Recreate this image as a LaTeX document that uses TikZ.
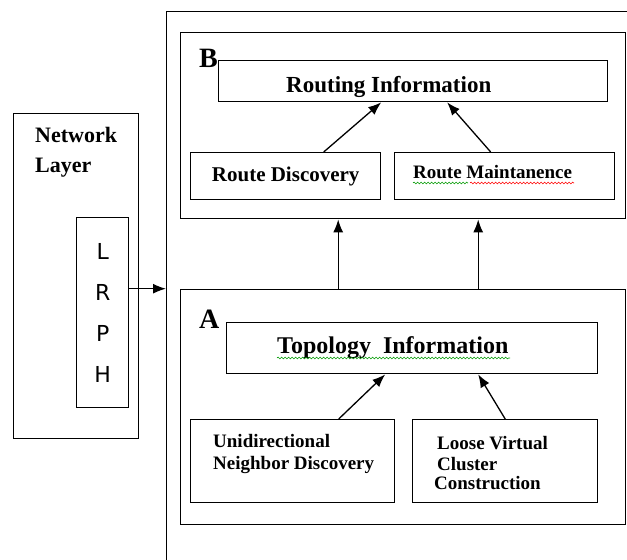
\documentclass[tikz,border=0pt]{standalone}
\usepackage{fontspec}
\setmainfont{Liberation Serif}
\newfontfamily\lrphfont{DejaVu Sans}
\usetikzlibrary{arrows.meta,positioning,decorations.pathmorphing}
\tikzset{%
	box/.style      = {draw, rectangle, line width=1.4pt, inner sep=0pt, anchor=north west}, % Block
	lbl/.style      = {anchor=base west, inner sep=0pt}, % Label
	arrow/.style    = {line width=1.3pt, -{Latex[length=13pt,width=10pt]}},
	squiggle/.style = {decorate, decoration={snake, amplitude=0.9pt, segment length=3.5pt}, line width=0.6pt},
}

\begin{document}
\begin{tikzpicture}[x=1pt,y=-1pt]
	\clip (0,0) rectangle (627,560);
	% outer frame, cut by the page
	\node[box, minimum width=520pt, minimum height=620pt] (frame) at (166,11) {};
	
	% network layer
	\node[box, minimum width=125pt, minimum height=325pt] (netlayer) at (13,113) {};
	\node[lbl, align=left, font=\fontsize{22}{30}\selectfont\bfseries] (nettext) at (35,172) {Network\\Layer};
	\node[box, minimum width=52pt, minimum height=190pt, align=center, font=\fontsize{22}{41}\selectfont\lrphfont] (lrph) at (76,217) {L\\R\\P\\H};
	
	% part B
	\node[box, minimum width=445pt, minimum height=186pt] (partB) at (180,32) {};
	\node[lbl, font=\fontsize{28}{28}\selectfont\bfseries] (labB) at (199,67) {B};
	\node[box, minimum width=389pt, minimum height=41pt] (routing) at (218,60) {};
	\node[lbl, font=\fontsize{23}{23}\selectfont\bfseries] at (286,92) {Routing Information};
	\node[box, minimum width=190pt, minimum height=47pt, font=\fontsize{21}{21}\selectfont\bfseries] (rdisc) at (190,152) {Route Discovery};
	\node[box, minimum width=220pt, minimum height=47pt] (rmaint) at (394,152) {};
	\node[lbl, font=\fontsize{19}{19}\selectfont\bfseries] (rmtext) at (413,178) {Route Maintanence};
	\draw[squiggle, green!60!black] (413,183) -- (468,183);
	\draw[squiggle, red] (470,183) -- (574,183);
	
	% part A
	\node[box, minimum width=445pt, minimum height=235pt] (partA) at (180,289) {};
	\node[lbl, font=\fontsize{28}{28}\selectfont\bfseries] (labA) at (199,328) {A};
	\node[box, minimum width=371pt, minimum height=51pt] (topo) at (226,322) {};
	\node[lbl, font=\fontsize{24}{24}\selectfont\bfseries] (topotext) at (277,353) {Topology~ Information};
	\draw[squiggle, green!60!black] (277,358) -- (510,358);
	\node[box, minimum width=204pt, minimum height=83pt] (unidir) at (190,419) {};
	\node[lbl, align=left, font=\fontsize{19}{22}\selectfont\bfseries] at (213,469) {Unidirectional\\Neighbor Discovery};
	\node[box, minimum width=185pt, minimum height=83pt] (loose) at (412,419) {};
	\node[lbl, align=left, font=\fontsize{19}{21}\selectfont\bfseries] at (437,489) {Loose Virtual\\Cluster\\[-2pt]\hspace*{-3pt}Construction};
	
	% connectors
	\coordinate (lrphout) at ([yshift=24pt]lrph.east);
	\draw[arrow] (lrphout) -- (lrphout -| frame.west);
	\draw[arrow] ([xshift=38pt]rdisc.north) -- ([xshift=-32pt]routing.south);
	\draw[arrow] ([xshift=-14pt]rmaint.north) -- ([xshift=34pt]routing.south);
	\draw[arrow] ([xshift=-65pt]partA.north) -- ([xshift=-65pt]partB.south);
	\draw[arrow] ([xshift=75pt]partA.north) -- ([xshift=75pt]partB.south);
	\draw[arrow] ([xshift=46pt]unidir.north) -- ([xshift=-27pt]topo.south);
	\draw[arrow] (loose.north) -- ([xshift=66pt]topo.south);
\end{tikzpicture}
\end{document}
